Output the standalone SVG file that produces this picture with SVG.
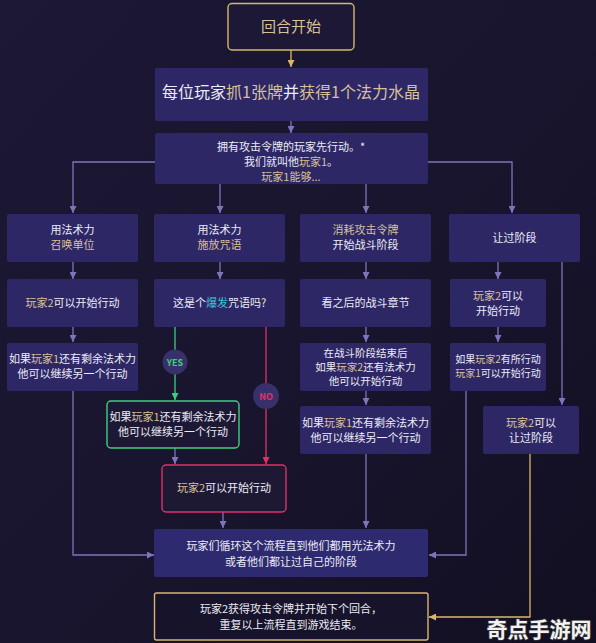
<svg xmlns="http://www.w3.org/2000/svg" width="596" height="643" viewBox="0 0 596 643">
<defs>
<linearGradient id="bg" x1="0" y1="0" x2="1" y2="1">
<stop offset="0" stop-color="#1c1835"/>
<stop offset="0.5" stop-color="#19152e"/>
<stop offset="1" stop-color="#120f22"/>
</linearGradient>
<marker id="ap" viewBox="0 0 8 8" markerWidth="7" markerHeight="7" refX="8" refY="4" orient="auto" markerUnits="userSpaceOnUse"><path d="M0,0 L8,4 L0,8 z" fill="#7c75bc"/></marker>
<marker id="ag" viewBox="0 0 8 8" markerWidth="7" markerHeight="7" refX="8" refY="4" orient="auto" markerUnits="userSpaceOnUse"><path d="M0,0 L8,4 L0,8 z" fill="#d8b66e"/></marker>
<marker id="agr" viewBox="0 0 8 8" markerWidth="7" markerHeight="7" refX="8" refY="4" orient="auto" markerUnits="userSpaceOnUse"><path d="M0,0 L8,4 L0,8 z" fill="#3fcf7c"/></marker>
<marker id="ar" viewBox="0 0 8 8" markerWidth="7" markerHeight="7" refX="8" refY="4" orient="auto" markerUnits="userSpaceOnUse"><path d="M0,0 L8,4 L0,8 z" fill="#e0306a"/></marker>
</defs>
<style>
text{font-family:"Noto Sans CJK SC","Noto Sans",sans-serif;text-anchor:middle;fill:#ecebf5;font-size:11px}
.b{fill:#d8c197}
.c{fill:#3cc6d6}
.s{font-size:10px}
.m{font-size:10.5px}
.n{fill:#2d2766;stroke:none}
.lp{fill:none;stroke:#7c75bc;stroke-width:1.3;marker-end:url(#ap)}
.lg{fill:none;stroke:#d8b66e;stroke-width:1.3;marker-end:url(#ag)}
</style>
<rect width="596" height="643" fill="url(#bg)"/>

<g id="connectors">
<path class="lg" d="M291,50 V67"/>
<path class="lp" d="M291,121 V133"/>
<path class="lp" d="M155,162 H73 V213"/>
<path class="lp" d="M428,162 H512 V213"/>
<path class="lp" d="M220,184 V213"/>
<path class="lp" d="M366,184 V213"/>
<path class="lp" d="M73,262 V279"/>
<path class="lp" d="M220,262 V279"/>
<path class="lp" d="M366,262 V279"/>
<path class="lp" d="M498,262 V279"/>
<path class="lp" d="M73,327 V342"/>
<path class="lp" d="M366,327 V342"/>
<path class="lp" d="M498,327 V342"/>
<path class="lp" d="M73,391 V555 H154"/>
<path class="lp" d="M366,391 V405"/>
<path class="lp" d="M366,454 V528"/>
<path class="lp" d="M175,448 V464"/>
<path class="lp" d="M223,512 V528"/>
<path class="lp" d="M466,391 V555 H429"/>
<path class="lp" d="M562,262 V405"/>
<path class="lg" d="M530,454 V617 H429"/>
<path d="M175,327 V400" fill="none" stroke="#3fcf7c" stroke-width="1.3" marker-end="url(#agr)"/>
<path d="M266,327 V464" fill="none" stroke="#e0306a" stroke-width="1.3" marker-end="url(#ar)"/>
<g id="yes"><circle cx="175" cy="362" r="12.5" fill="#37306a"/><text x="175" y="365.5" style="fill:#3fcf7c;font-size:9px;font-weight:bold">YES</text></g>
<g id="no"><circle cx="266" cy="396" r="13" fill="#37306a"/><text x="266" y="399.5" style="fill:#e0306a;font-size:9px;font-weight:bold">NO</text></g>
</g>

<g id="n-start"><rect x="228" y="3.5" width="126" height="46.5" rx="4" fill="#1c1835" stroke="#d8b66e" stroke-width="1.4"/><text x="291" y="32" style="font-size:15px" class="b">回合开始</text></g>
<g id="n-draw"><rect class="n" x="155" y="68" width="273" height="53" rx="2"/><text x="291" y="98" style="font-size:16px">每位玩家<tspan class="b">抓1张牌</tspan>并<tspan class="b">获得1个法力水晶</tspan></text></g>
<g id="n-first"><rect class="n" x="155" y="133" width="273" height="51" rx="2"/>
<text x="291" y="151">拥有攻击令牌的玩家先行动。*</text>
<text x="291" y="166">我们就叫他<tspan class="b">玩家1</tspan>。</text>
<text x="291" y="181" class="b">玩家1能够...</text></g>

<g id="n-summon"><rect class="n" x="7" y="214" width="131" height="48" rx="2"/><text x="72.5" y="234">用法术力</text><text x="72.5" y="249" class="b">召唤单位</text></g>
<g id="n-spell"><rect class="n" x="154" y="214" width="131" height="48" rx="2"/><text x="219.5" y="234">用法术力</text><text x="219.5" y="249" class="b">施放咒语</text></g>
<g id="n-attack"><rect class="n" x="300" y="214" width="131" height="48" rx="2"/><text x="365.5" y="234" class="b">消耗攻击令牌</text><text x="365.5" y="249">开始战斗阶段</text></g>
<g id="n-pass"><rect class="n" x="449" y="214" width="131" height="48" rx="2"/><text x="514.5" y="242">让过阶段</text></g>

<g id="n-p2a"><rect class="n" x="7" y="279" width="131" height="48" rx="2"/><text x="72.5" y="307"><tspan class="b">玩家2</tspan>可以开始行动</text></g>
<g id="n-burst"><rect class="n" x="154" y="279" width="131" height="48" rx="2"/><text x="219.5" y="307">这是个<tspan class="c">爆发</tspan>咒语吗?</text></g>
<g id="n-combat"><rect class="n" x="300" y="279" width="131" height="48" rx="2"/><text x="365.5" y="307">看之后的战斗章节</text></g>
<g id="n-p2b"><rect class="n" x="450" y="279" width="96" height="48" rx="2"/><text x="498" y="300"><tspan class="b">玩家2</tspan>可以</text><text x="498" y="315">开始行动</text></g>

<g id="n-cont1"><rect class="n" x="7" y="343" width="131" height="48" rx="2"/><text x="72.5" y="363">如果<tspan class="b">玩家1</tspan>还有剩余法术力</text><text x="72.5" y="378">他可以继续另一个行动</text></g>
<g id="n-after"><rect class="n" x="300" y="343" width="131" height="48" rx="2"/><text class="m" x="365.5" y="357">在战斗阶段结束后</text><text class="m" x="365.5" y="371">如果<tspan class="b">玩家2</tspan>还有法术力</text><text class="m" x="365.5" y="385">他可以开始行动</text></g>
<g id="n-p2act"><rect class="n" x="450" y="343" width="96" height="48" rx="2"/><text class="s" x="498" y="363">如果<tspan class="b">玩家2</tspan>有所行动</text><text class="s" x="498" y="377"><tspan class="b">玩家1</tspan>可以开始行动</text></g>

<g id="n-cont2"><rect x="107" y="401" width="132" height="47" rx="4" fill="#1d1935" stroke="#3fcf7c" stroke-width="1.4"/><text x="173" y="421">如果<tspan class="b">玩家1</tspan>还有剩余法术力</text><text x="173" y="436">他可以继续另一个行动</text></g>
<g id="n-cont3"><rect class="n" x="300" y="406" width="131" height="48" rx="2"/><text x="365.5" y="427">如果<tspan class="b">玩家1</tspan>还有剩余法术力</text><text x="365.5" y="442">他可以继续另一个行动</text></g>
<g id="n-p2pass"><rect class="n" x="483" y="406" width="96" height="48" rx="2"/><text x="531" y="427"><tspan class="b">玩家2</tspan>可以</text><text x="531" y="442">让过阶段</text></g>

<g id="n-p2c"><rect x="162" y="465" width="124" height="47" rx="4" fill="#1d1935" stroke="#e0306a" stroke-width="1.4"/><text x="224" y="492"><tspan class="b">玩家2</tspan>可以开始行动</text></g>

<g id="n-loop"><rect x="154" y="529" width="274" height="48" rx="2" fill="#2e2a70"/><text x="291" y="550">玩家们循环这个流程直到他们都用光法术力</text><text x="291" y="566">或者他们都让过自己的阶段</text></g>
<g id="n-end"><rect x="154.5" y="593" width="273.5" height="47" rx="2" fill="#17132a" stroke="#d8b66e" stroke-width="1.4"/><text x="291" y="613">玩家2获得攻击令牌并开始下个回合，</text><text x="291" y="629">重复以上流程直到游戏结束。</text></g>

<text x="539" y="637" style="font-size:21px;font-weight:bold;fill:#f2f2f2;stroke:#333;stroke-width:1.5;paint-order:stroke">奇点手游网</text>
</svg>
